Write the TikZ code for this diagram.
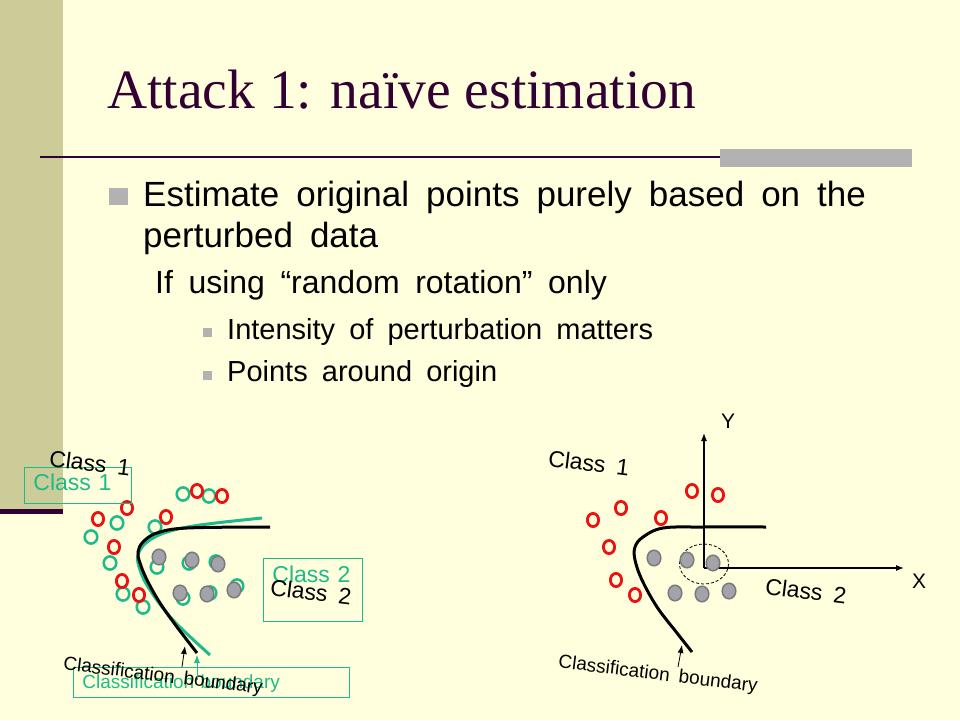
\documentclass[tikz,border=0pt]{standalone}
\usepackage{fontspec}
\setmainfont{Liberation Sans}[WordSpace=1.75]
\newfontfamily\titlefont{Liberation Serif}
\usetikzlibrary{
  arrows.meta,
  positioning,
}
\definecolor{slidebg}{HTML}{FFFFDD}
\definecolor{sidebar}{HTML}{CCCC99}
\definecolor{titlepurple}{HTML}{330033}
\definecolor{rulegray}{HTML}{B2B2B2}
\definecolor{ringred}{HTML}{EE1111}
\definecolor{ringteal}{HTML}{1DBA8C}
\definecolor{dotfill}{HTML}{A3A3AB}
\definecolor{dotedge}{HTML}{7A7A7A}
\newcommand{\levelone}{\fontsize{35}{42}\selectfont}
\newcommand{\leveltwo}{\fontsize{32}{38}\selectfont}
\newcommand{\levelthree}{\fontsize{29}{34}\selectfont}
\newcommand{\classfont}{\fontsize{23}{27}\selectfont}
\newcommand{\notefont}{\fontsize{19}{22}\selectfont}
\tikzset{
  >={Latex[length=8pt,width=6pt]},
  redring/.style={draw=ringred, line width=2.8pt},
  tealring/.style={draw=ringteal, line width=2.5pt},
  graydot/.style={draw=dotedge, fill=dotfill, line width=1.5pt},
  boundaryline/.style={line width=3pt, smooth, tension=0.6},
  tealbox/.style={draw=ringteal, text=ringteal, line width=0.8pt, align=left, anchor=north west, inner xsep=9pt},
  bigsquare/.style={fill=rulegray, minimum width=19pt, minimum height=17pt},
  smallsquare/.style={fill=rulegray, minimum size=9pt},
  slanted/.style={rotate=-7},
  pointer/.style={->, line width=0.8pt},
}
\begin{document}
\begin{tikzpicture}[x=1pt, y=-1pt, inner sep=0pt]
  \useasboundingbox (0,0) rectangle (960,720);
  \fill[slidebg] (0,0) rectangle (960,720);
  \fill[sidebar] (0,0) rectangle (63,510);
  \fill[titlepurple] (0,509) rectangle (63,514);
  \draw[titlepurple, line width=2pt] (40,157) -- (720,157);
  \fill[rulegray] (720,149) rectangle (912,167);

  \node[anchor=base west, font=\titlefont\fontsize{55.5}{60}\selectfont, text=titlepurple] (title) at (107,108) {Attack 1: naïve estimation};

  % bullets
  \node[bigsquare] (markone) at (118,196.5) {};
  \node[anchor=base west, font=\levelone] (estimate) at (143,206) {Estimate original points purely based on the};
  \node[anchor=base west, font=\levelone] (perturbed) at (143,247) {perturbed data};
  \node[anchor=base west, font=\leveltwo] (rotation) at (155,293) {If using “random rotation” only};
  \node[smallsquare] (marktwo) at (207.5,332.5) {};
  \node[anchor=base west, font=\levelthree] (intensity) at (227,339) {Intensity of perturbation matters};
  \node[smallsquare] (markthree) at (207.5,375.5) {};
  \node[anchor=base west, font=\levelthree] (around) at (227,381) {Points around origin};

  % left picture
  \foreach \x/\y in {117/523, 91/537, 110/563, 123/594, 143/607, 155/527, 183/494, 209/496,
                     157/567, 189/563, 216/562, 183/598, 210/593, 237/586}
    \draw[tealring] (\x,\y) ellipse [x radius=6.3, y radius=6.6];
  \foreach \x/\y in {159/557, 192/560, 218/564, 180/593, 207/594, 234/590}
    \draw[graydot] (\x,\y) ellipse [x radius=6.8, y radius=7.8];
  \foreach \x/\y in {127/508, 98/519, 114/547, 122/581, 139/595, 166/517, 197/491, 222/496}
    \draw[redring] (\x,\y) ellipse [x radius=5.6, y radius=6.6];
  \draw[boundaryline, ringteal] plot coordinates {(262,518) (200,525) (167,532) (147,542) (138,555) (140,570) (150,590) (173,620) (210,655)};
  \draw[boundaryline] plot coordinates {(270,527) (187,528) (157,533) (143,542) (138,552) (140,563) (147,580) (160,603) (177,627) (197,653)};

  \node[tealbox, text width=89pt, inner ysep=6pt, text height=17pt, text depth=7pt, font=\classfont] (classonebox) at (24,467) {Class 1};
  \node[tealbox, text width=81pt, inner ysep=8pt, text height=16pt, text depth=31pt, font=\classfont] (classtwobox) at (263,558) {Class 2};
  \node[tealbox, text width=258pt, inner ysep=7pt, text height=14pt, text depth=2pt, font=\notefont] (boundarybox) at (73,667) {Classification boundary};
  \node[slanted, font=\classfont] (leftclassone) at (90,463) {Class 1};
  \node[slanted, font=\classfont] (leftclasstwo) at (311,592) {Class 2};
  \node[slanted, font=\notefont] (leftnote) at (163,677) {Classification boundary};

  \coordinate (lefttail) at (182,667);
  \coordinate (lefttip) at (185,646);
  \coordinate (tealtail) at (197,680);
  \coordinate (tealtip) at (197,655);
  \draw[pointer] (lefttail) -- (lefttip);
  \draw[pointer, ringteal] (tealtail) -- (tealtip);

  % right picture
  \coordinate (origin) at (704,568);
  \coordinate (ytip) at (704,433);
  \coordinate (xtip) at (904,568);
  \draw[->, line width=1.2pt] (origin) -- (ytip);
  \draw[->, line width=1.2pt] (origin) -- (xtip);
  \node[font=\fontsize{21}{24}\selectfont] (ylabel) at (728,421) {Y};
  \node[font=\fontsize{21}{24}\selectfont] (xlabel) at (919,581) {X};
  \draw[dash pattern=on 3pt off 2pt, line width=0.8pt] (704,564) ellipse [x radius=24.5, y radius=20];

  \foreach \x/\y in {654/558, 687/560, 713/563, 675/593, 702/594, 729/591}
    \draw[graydot] (\x,\y) ellipse [x radius=6.8, y radius=7.8];
  \foreach \x/\y in {692/491, 718/495, 621/508, 593/520, 661/518, 609/547, 616/580, 635/595}
    \draw[redring] (\x,\y) ellipse [x radius=5.6, y radius=6.6];
  \draw[boundaryline] plot coordinates {(766,527) (703,527) (663,528) (643,537) (635,547) (635,560) (642,580) (657,607) (677,633) (692,652)};

  \node[slanted, font=\classfont] (rightclassone) at (589,463) {Class 1};
  \node[slanted, font=\classfont] (rightclasstwo) at (806,591) {Class 2};
  \node[slanted, font=\notefont] (rightnote) at (658,675) {Classification boundary};
  \coordinate (righttail) at (678,667);
  \coordinate (righttip) at (682,645);
  \draw[pointer] (righttail) -- (righttip);
\end{tikzpicture}
\end{document}
